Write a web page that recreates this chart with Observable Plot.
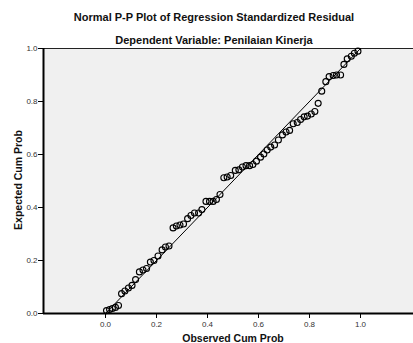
<!DOCTYPE html>
<html><head><meta charset="utf-8">
<script src="https://cdn.jsdelivr.net/npm/d3@7"></script>
<script src="https://cdn.jsdelivr.net/npm/@observablehq/plot@0.6"></script>
<style>html,body{margin:0;padding:0;background:#fff} svg{display:block}</style>
</head><body><div id="chart"></div>
<script>
const titleText = "Normal P-P Plot of Regression Standardized Residual";
const subtitleText = "Dependent Variable: Penilaian Kinerja";
const xLabel = "Observed Cum Prob";
const yLabel = "Expected Cum Prob";
const xTicks = [0.0, 0.2, 0.4, 0.6, 0.8, 1.0];
const yTicks = [0.0, 0.2, 0.4, 0.6, 0.8, 1.0];
const refLine = [0, 1];
const observed = [
  0.004, 0.016, 0.027, 0.039, 0.051, 0.063, 0.076, 0.090, 0.104, 0.118,
  0.133, 0.147, 0.161, 0.176, 0.190, 0.206, 0.222, 0.235, 0.249, 0.265,
  0.278, 0.292, 0.306, 0.322, 0.335, 0.349, 0.365, 0.378, 0.394, 0.408,
  0.422, 0.435, 0.449, 0.464, 0.477, 0.491, 0.509, 0.523, 0.537, 0.551,
  0.565, 0.578, 0.592, 0.608, 0.621, 0.634, 0.648, 0.663, 0.678, 0.694,
  0.708, 0.722, 0.736, 0.752, 0.765, 0.779, 0.792, 0.807, 0.821, 0.834,
  0.848, 0.864, 0.877, 0.893, 0.906, 0.922, 0.935, 0.948, 0.964, 0.976,
  0.990
];
const expected = [
  0.011, 0.015, 0.019, 0.023, 0.030, 0.075, 0.085, 0.096, 0.106, 0.128,
  0.157, 0.164, 0.170, 0.194, 0.200, 0.217, 0.240, 0.251, 0.255, 0.323,
  0.330, 0.334, 0.338, 0.358, 0.370, 0.379, 0.379, 0.392, 0.423, 0.423,
  0.423, 0.430, 0.449, 0.512, 0.515, 0.521, 0.540, 0.542, 0.553, 0.558,
  0.558, 0.562, 0.575, 0.590, 0.602, 0.617, 0.628, 0.636, 0.655, 0.674,
  0.685, 0.691, 0.716, 0.721, 0.732, 0.742, 0.745, 0.753, 0.762, 0.793,
  0.839, 0.875, 0.894, 0.898, 0.900, 0.900, 0.940, 0.961, 0.971, 0.982,
  0.990
];

const points = observed.map((x, i) => ({x, y: expected[i]}));
const diag = refLine.map(v => ({x: v, y: v}));
const font = "'Liberation Sans', Arial, Helvetica, sans-serif";

const plot = Plot.plot({
  width: 413, height: 343,
  marginLeft: 43, marginRight: 0, marginTop: 48, marginBottom: 30,
  style: {fontFamily: font, background: "#fff", color: "#000", overflow: "visible"},
  x: {domain: [-62/255, 308/255], label: null},
  y: {domain: [0, 1], label: null},
  marks: [
    Plot.frame({fill: "#f0f0f0", stroke: null}),
    Plot.ruleY([1], {stroke: "#222", strokeWidth: 1.2}),
    Plot.axisX({ticks: xTicks, tickFormat: d3.format(".1f"), tickSize: 5, tickPadding: 3, fontSize: 8, fill: "#333", stroke: "#000", label: null}),
    Plot.axisY({ticks: yTicks, tickFormat: d3.format(".1f"), tickSize: 5, tickPadding: 1, fontSize: 8, fill: "#333", stroke: "#000", label: null}),
    Plot.line(diag, {x: "x", y: "y", stroke: "#000", strokeWidth: 1}),
    Plot.dot(points, {x: "x", y: "y", r: 3, stroke: "#000", strokeWidth: 1.1, fill: "none"}),
    Plot.ruleX([-62/255], {stroke: "#000", strokeWidth: 2}),
    Plot.ruleY([0], {stroke: "#000", strokeWidth: 2})
  ]
});

const svg = d3.select(plot);
const addText = (txt, x, y, opts = {}) => {
  const t = svg.append("text")
    .attr("x", x).attr("y", y)
    .attr("text-anchor", "middle")
    .attr("font-family", font)
    .attr("font-weight", "bold")
    .attr("font-size", opts.size || 10.5)
    .attr("fill", "#111")
    .text(txt);
  if (opts.rotate) t.attr("transform", `rotate(-90 ${x} ${y})`);
  return t;
};
addText(titleText, 214, 21, {size: 11});
addText(subtitleText, 214, 44, {size: 11});
addText(xLabel, 233, 342, {size: 10.5});
addText(yLabel, 22, 180, {rotate: true, size: 10.5});

document.getElementById("chart").appendChild(plot);
</script>
</body></html>
